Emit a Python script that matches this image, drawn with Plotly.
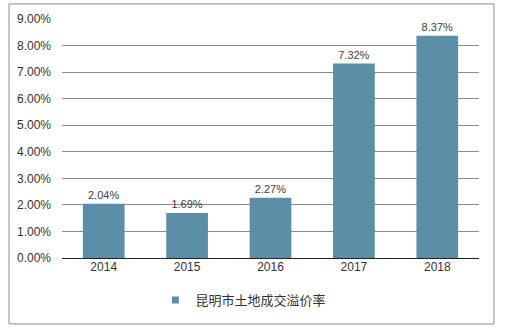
import plotly.graph_objects as go

years = ["2014", "2015", "2016", "2017", "2018"]
rates = [2.04, 1.69, 2.27, 7.32, 8.37]
labels = ["2.04%", "1.69%", "2.27%", "7.32%", "8.37%"]
series_name = "昆明市土地成交溢价率"
ytick_vals = [0, 1, 2, 3, 4, 5, 6, 7, 8, 9]
ytick_text = ["0.00%", "1.00%", "2.00%", "3.00%", "4.00%", "5.00%", "6.00%", "7.00%", "8.00%", "9.00%"]

bar_color = "rgb(91,143,167)"

fig = go.Figure()
fig.add_trace(go.Bar(
    x=years, y=rates, name=series_name,
    marker=dict(color=bar_color, line=dict(width=0)),
    width=0.5,
    text=labels, textposition="outside", cliponaxis=False,
    textfont=dict(family="Liberation Sans, Arial", size=11, color="#404040"),
    showlegend=False,
))
# legend entry with a small square swatch
fig.add_trace(go.Scatter(
    x=[None], y=[None], mode="markers", name=series_name,
    marker=dict(symbol="square", size=7, color=bar_color),
    showlegend=True,
))

fig.update_layout(
    width=509, height=333,
    margin=dict(l=62, r=30, t=19, b=75),
    paper_bgcolor="white", plot_bgcolor="white",
    font=dict(family="Liberation Sans, Arial", size=11, color="#333333"),
    bargap=0.5,
    xaxis=dict(showgrid=False, showline=False, ticks="",
               tickfont=dict(size=12, color="#333333")),
    yaxis=dict(range=[0, 9], tickvals=ytick_vals, ticktext=ytick_text,
               showgrid=True, gridcolor="#8c8c8c", gridwidth=1,
               zeroline=True, zerolinecolor="#222222", zerolinewidth=1,
               showline=False, ticks="", ticklabelstandoff=10,
               tickfont=dict(size=12, color="#333333")),
    legend=dict(orientation="h", x=0.435, xanchor="center", y=-0.176, yanchor="middle",
                font=dict(family="Noto Sans CJK SC", size=13, color="#333333"),
                itemwidth=30),
    shapes=[dict(type="rect", xref="paper", yref="paper",
                 x0=-0.127, x1=1.036, y0=-0.276, y1=1.063,
                 line=dict(color="#8c8c8c", width=1), fillcolor="rgba(0,0,0,0)")],
)

fig.write_html("out.html")
